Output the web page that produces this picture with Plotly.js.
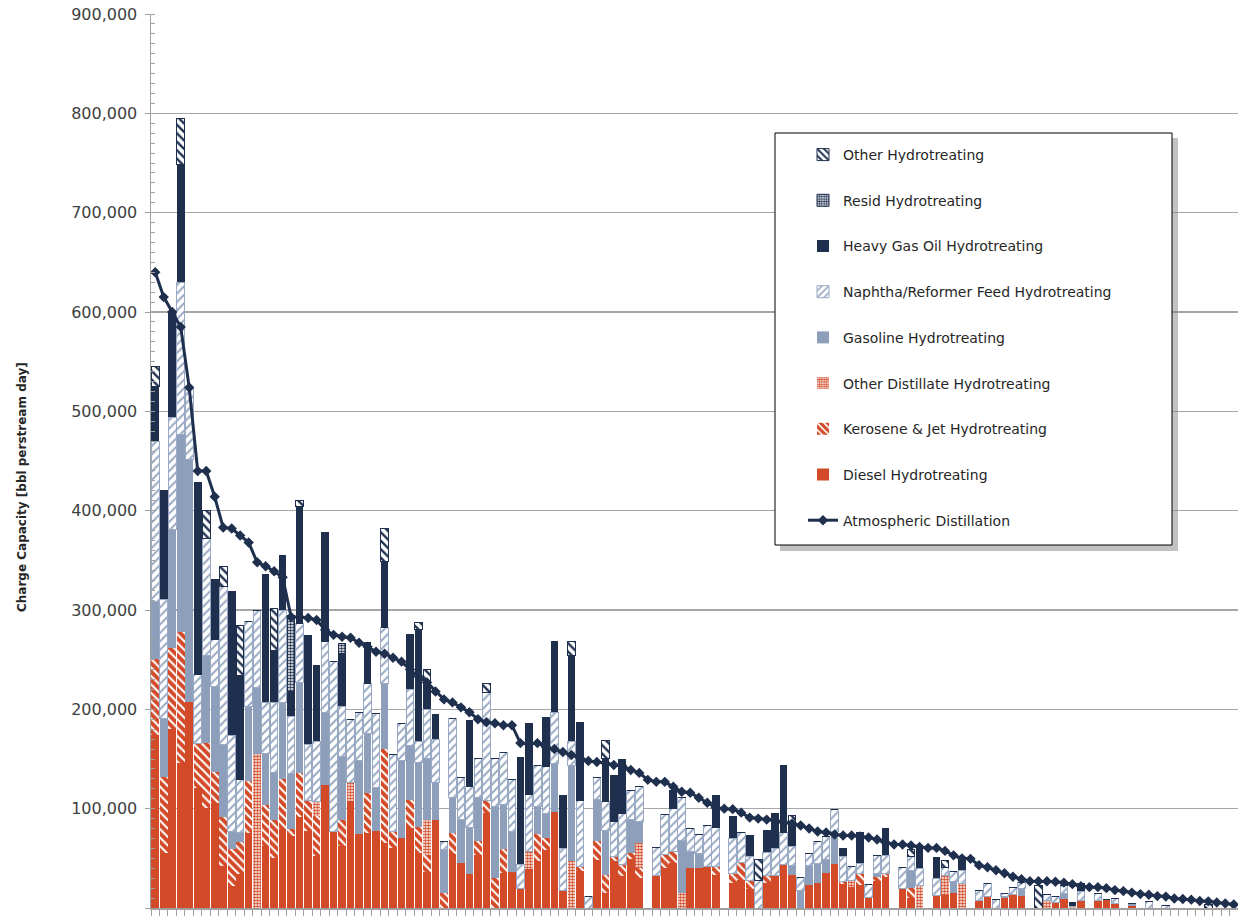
<!DOCTYPE html>
<html>
<head>
<meta charset="utf-8">
<script src="https://cdn.plot.ly/plotly-3.0.1.min.js"></script>
<style>html,body{margin:0;padding:0;background:#fff;}#chart{width:1238px;height:916px;}</style>
</head>
<body>
<div id="chart"></div>
<script>
// Refineries ranked by atmospheric distillation capacity (values in thousand bbl per stream day)
const UNIT = 1000;
const refineryRank = Array.from({length: 128}, (_, i) => i + 1);

const dieselHT = [174,55,180,146,207,121,101,106,42,22,
  34,76,0,62,50,80,72,92,78,52,
  124,77,62,108,74,76,78,65,60,70,
  81,55,36,89,0,54,45,34,53,96,
  0,35,36,20,39,47,58,97,18,0,
  37,0,48,15,47,32,49,30,0,33,
  40,45,0,40,40,42,33,0,25,28,
  19,0,25,33,44,33,0,23,25,35,
  44,24,21,23,11,27,31,0,20,10,
  0,0,13,13,15,0,0,8,12,0,
  10,14,12,0,0,0,6,9,0,8,
  0,8,9,5,0,2,0,0,0,0,
  0,0,0,0,0,0,0,0];

const keroJetHT = [77,77,82,132,0,45,65,31,50,37,
  32,52,0,42,39,50,8,44,30,41,
  0,0,27,0,0,40,0,95,17,0,
  28,27,17,0,15,22,0,0,14,12,
  30,24,0,0,0,27,12,0,0,0,
  5,0,19,18,5,12,6,10,0,0,
  14,12,0,0,0,0,9,0,10,18,
  9,0,8,0,0,0,0,0,0,0,
  0,3,0,12,0,4,4,0,0,10,
  0,0,0,0,0,0,0,0,0,0,
  0,0,0,0,0,0,0,0,0,0,
  0,0,0,0,0,0,0,0,0,0,
  0,0,0,0,0,0,0,0];

const otherDistHT = [0,0,0,0,0,0,0,0,0,0,
  0,0,155,0,0,0,0,0,0,14,
  0,0,0,18,0,0,0,0,0,0,
  0,0,36,0,0,0,0,0,0,0,
  0,0,0,0,18,0,0,0,0,47,
  0,0,0,0,0,0,0,25,0,0,
  0,0,15,0,0,0,0,0,0,0,
  0,0,0,0,0,0,0,0,0,0,
  0,0,7,0,0,0,0,0,0,0,
  23,0,0,20,0,25,0,0,0,0,
  0,0,0,0,0,8,0,0,2,0,
  0,0,0,0,0,0,0,0,0,0,
  0,0,0,0,0,0,0,0];

const gasolineHT = [58,59,119,199,245,0,88,86,73,18,
  10,75,67,52,47,77,55,91,0,0,
  73,0,64,0,74,60,43,66,0,78,
  55,64,62,37,44,35,44,47,44,0,
  72,45,41,0,0,28,25,48,0,96,
  0,0,42,45,0,0,34,22,0,0,
  0,0,53,17,15,0,0,0,0,0,
  0,0,0,0,0,10,18,20,20,14,
  33,0,0,0,0,4,0,0,0,18,
  0,0,0,0,12,0,0,0,0,0,
  2,0,8,0,0,0,0,6,0,0,
  0,0,0,0,0,3,0,0,0,0,
  0,0,0,0,0,0,0,0];

const naphthaHT = [161,120,113,153,72,69,118,47,159,97,
  53,85,77,51,71,93,58,59,57,61,
  71,171,50,64,49,50,75,56,78,38,
  56,22,49,44,8,80,42,41,40,109,
  49,53,52,24,57,41,47,52,42,25,
  66,12,22,29,35,51,29,35,0,28,
  40,43,43,23,19,41,39,0,35,30,
  24,28,23,27,32,19,13,12,22,23,
  22,25,14,10,13,18,18,0,21,14,
  17,0,17,8,10,13,0,10,13,9,
  3,7,6,0,0,6,6,8,0,9,
  0,7,0,5,0,0,0,7,0,3,
  0,0,0,0,0,0,0,0];

const heavyGasOilHT = [55,109,106,118,0,193,0,61,0,145,
  105,0,0,129,52,55,25,118,109,76,
  110,0,53,0,0,41,0,67,0,0,
  55,112,27,25,0,0,0,67,0,0,
  0,0,0,108,72,0,50,71,53,86,
  79,0,0,44,46,55,0,0,0,0,
  0,18,0,0,0,0,32,0,22,0,
  21,0,22,35,67,23,0,0,0,0,
  0,8,0,31,0,0,27,0,0,0,
  23,0,21,0,0,10,0,0,0,0,
  0,0,0,0,0,0,0,0,4,8,
  0,0,0,0,0,0,0,0,0,0,
  0,0,0,0,0,0,0,0];

const residHT = [0,0,0,0,0,0,0,0,0,0,
  0,0,0,0,0,0,76,0,0,0,
  0,0,10,0,0,0,0,0,0,0,
  0,0,0,0,0,0,0,0,0,0,
  0,0,0,0,0,0,0,0,0,0,
  0,0,0,0,0,0,0,0,0,0,
  0,0,0,0,0,0,0,0,0,0,
  0,0,0,0,0,0,0,0,0,0,
  0,0,0,0,0,0,0,0,0,0,
  0,0,0,0,0,0,0,0,0,0,
  0,0,0,0,0,0,0,0,0,0,
  0,0,0,0,0,0,0,0,0,0,
  0,0,0,0,0,0,0,0];

const otherHT = [20,0,0,47,0,0,28,0,20,0,
  50,0,0,0,43,0,0,6,0,0,
  0,0,0,0,0,0,0,33,0,0,
  0,7,13,0,0,0,0,0,0,9,
  0,0,0,0,0,0,0,0,0,14,
  0,0,0,18,0,0,0,0,0,0,
  0,0,0,0,0,0,0,0,0,0,
  0,21,0,0,0,8,0,0,0,0,
  0,0,0,0,0,0,0,0,0,7,
  0,0,0,7,0,0,0,0,0,0,
  0,0,0,0,23,0,0,0,0,0,
  0,0,0,0,0,0,0,0,0,0,
  0,0,0,0,4,0,0,0];

const atmDistillation = [640,615,600,585,524,440,440,414,383,382,
  375,368,348,344,339,333,293,293,292,290,
  280,275,273,272,267,263,258,256,252,248,
  240,233,227,218,210,207,202,197,190,187,
  186,184,184,166,165,166,162,160,157,154,
  151,148,147,146,144,143,139,136,129,127,
  127,122,117,116,111,106,101,100,99.5,96,
  91,90,89,88,86,85,83,80,77,76,
  74,73,73,72,71,69,66,64,64,63,
  61.5,60.5,60.5,57.5,53,50,49.5,43,41,38,
  35,31.5,29,27,27,27,26.5,25.5,24,22,
  21,21,20,18,17,15.5,14,13.4,12,11.5,
  9.5,9,8.4,7,6.7,5.5,4.5,3.5];

const toBbl = arr => arr.map(v => v * UNIT);

const RED = '#D24A28', NAVY = '#1F2F4E', GAS = '#8E9FBC', NAPH = '#9AAAC4';
const FONT = 'DejaVu Sans';

function bar(name, vals, rank, color, line, pattern) {
  const t = {
    type: 'bar', name: name, x: refineryRank, y: toBbl(vals),
    legendgroup: name, legendrank: rank,
    marker: {color: color, line: line || {width: 0}},
    hoverinfo: 'name+y'
  };
  if (pattern) t.marker.pattern = pattern;
  return t;
}

const traces = [
  bar('Diesel Hydrotreating', dieselHT, 8, RED),
  bar('Kerosene & Jet Hydrotreating', keroJetHT, 7, '#FFFFFF', {width: 0},
      {shape: '\\', bgcolor: RED, fgcolor: '#FFFFFF', size: 6, solidity: 0.35, fillmode: 'replace'}),
  bar('Other Distillate Hydrotreating', otherDistHT, 6, '#FFFFFF', {width: 0},
      {shape: '.', bgcolor: '#FFFFFF', fgcolor: RED, size: 3, solidity: 0.6, fillmode: 'replace'}),
  bar('Gasoline Hydrotreating', gasolineHT, 5, GAS),
  bar('Naphtha/Reformer Feed Hydrotreating', naphthaHT, 4, '#FFFFFF', {width: 1, color: NAPH},
      {shape: '/', bgcolor: '#FFFFFF', fgcolor: NAPH, size: 6, solidity: 0.35, fillmode: 'replace'}),
  bar('Heavy Gas Oil Hydrotreating', heavyGasOilHT, 3, NAVY),
  bar('Resid Hydrotreating', residHT, 2, '#FFFFFF', {width: 1, color: NAVY},
      {shape: '.', bgcolor: '#FFFFFF', fgcolor: NAVY, size: 3, solidity: 0.55, fillmode: 'replace'}),
  bar('Other Hydrotreating', otherHT, 1, '#FFFFFF', {width: 1, color: NAVY},
      {shape: '\\', bgcolor: '#FFFFFF', fgcolor: NAVY, size: 6, solidity: 0.4, fillmode: 'replace'}),
  {
    type: 'scatter', mode: 'lines+markers', name: 'Atmospheric Distillation',
    x: refineryRank, y: toBbl(atmDistillation), legendgroup: 'atm', legendrank: 9,
    line: {color: NAVY, width: 3}, marker: {symbol: 'diamond', size: 8, color: NAVY}
  }
];

// pixel -> paper helpers for the legend frame and title placement
const L = 151, R = 1238, T = 14, B = 908;
const px = v => (v - L) / (R - L);
const py = v => (B - v) / (B - T);

const layout = {
  width: 1238, height: 916,
  margin: {l: L, r: 1238 - R, t: T, b: 916 - B, pad: 0},
  paper_bgcolor: '#FFFFFF', plot_bgcolor: '#FFFFFF',
  font: {family: FONT, color: '#262626'},
  barmode: 'stack', bargap: 0.1,
  showlegend: true,
  legend: {
    x: px(803), y: py(139), xanchor: 'left', yanchor: 'top',
    bgcolor: 'rgba(0,0,0,0)', borderwidth: 0,
    traceorder: 'grouped', tracegroupgap: 24.5,
    font: {family: FONT, size: 14, color: '#262626'}
  },
  xaxis: {
    range: [0.5, 128.5], tick0: 0.5, dtick: 1, ticks: 'outside', ticklen: 6,
    tickcolor: '#A0A0A0', tickwidth: 1, showticklabels: false, showgrid: false,
    showline: true, linecolor: '#A0A0A0', linewidth: 2, zeroline: false, fixedrange: true
  },
  yaxis: {
    range: [0, 900000], dtick: 100000, tickformat: ',', ticks: 'outside', ticklen: 5,
    ticklabelstandoff: 4,
    tickcolor: '#A0A0A0', tickfont: {family: FONT, size: 16, color: '#404040'},
    showgrid: true, gridcolor: '#A6A6A6', gridwidth: 1.5,
    showline: true, linecolor: '#A0A0A0', linewidth: 1.5, zeroline: false,
    minor: {dtick: 10000, ticks: 'inside', ticklen: 4, tickcolor: '#A0A0A0', showgrid: false},
    title: {text: ''},
    automargin: false, fixedrange: true
  },
  annotations: [
    {text: 'Charge Capacity [bbl perstream day]', xref: 'paper', yref: 'paper',
     x: px(22), y: py(487), xanchor: 'center', yanchor: 'middle', textangle: -90,
     showarrow: false, font: {family: FONT, size: 12, color: '#262626', weight: 'bold'}}
  ],
  shapes: [
    {type: 'rect', xref: 'paper', yref: 'paper', layer: 'above',
     x0: px(780), x1: px(1178), y0: py(551), y1: py(138),
     fillcolor: 'rgba(120,120,120,0.45)', line: {width: 0}},
    {type: 'rect', xref: 'paper', yref: 'paper', layer: 'above',
     x0: px(775), x1: px(1172), y0: py(545), y1: py(133),
     fillcolor: '#FFFFFF', line: {color: '#000000', width: 1}}
  ]
};

Plotly.newPlot('chart', traces, layout, {displayModeBar: false, staticPlot: true});
</script>
</body>
</html>
